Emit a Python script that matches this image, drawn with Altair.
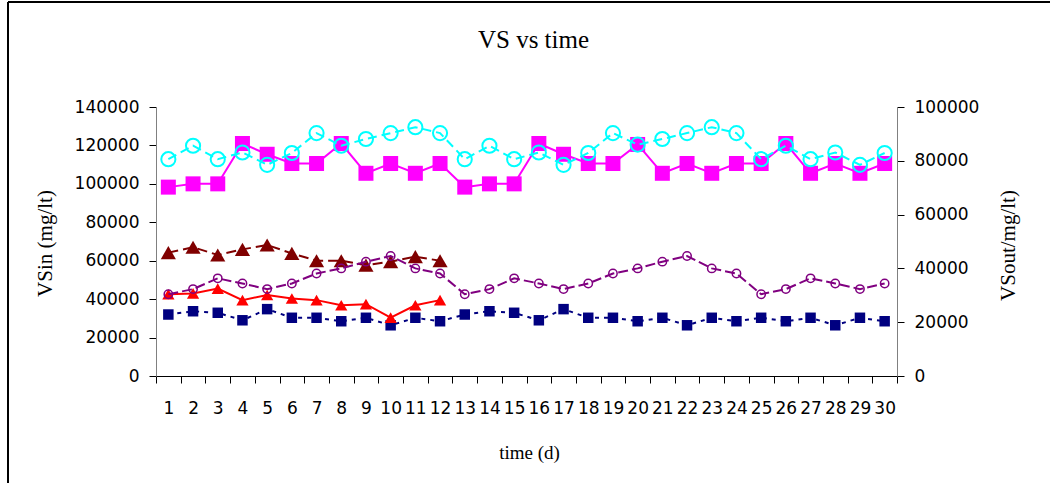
import altair as alt
import pandas as pd

# ---- data ----
days = list(range(1, 31))
days_short = list(range(1, 13))

# left axis (VSin, mg/lt)
vs_magenta = [98300, 100000, 100000, 121000, 115400, 110600, 110600, 121000, 105500, 110600, 105500, 110600,
              98300, 100000, 100000, 121000, 115400, 110600, 110600, 120500, 105500, 110600, 105500, 110600,
              110600, 121000, 105500, 110600, 105500, 110600]
vs_navy = [32000, 33700, 32900, 29000, 34800, 30300, 30300, 28500, 30300, 26400, 30300, 28500,
           32000, 33700, 32900, 29000, 34800, 30300, 30300, 28500, 30300, 26400, 30300, 28500,
           30300, 28500, 30300, 26400, 30300, 28500]
vs_darkred = [64200, 67000, 63000, 65900, 68200, 63800, 60000, 60000, 57700, 59500, 62100, 60000]

# right axis (VSout, mg/lt)
vs_cyan = [80600, 85600, 80600, 83100, 78500, 82900, 90300, 85600, 88100, 90300, 92500, 90300,
           80600, 85600, 80600, 83100, 78500, 82900, 90300, 86000, 88100, 90300, 92500, 90300,
           80600, 85600, 80600, 83100, 78500, 82900]
vs_purple = [30400, 32300, 36300, 34400, 32300, 34400, 38100, 40000, 42500, 44600, 40000, 38100,
             30400, 32300, 36300, 34400, 32300, 34400, 38100, 40000, 42500, 44600, 40000, 38100,
             30400, 32300, 36300, 34400, 32300, 34400]
vs_red = [30400, 30700, 32500, 28200, 30100, 28800, 28200, 26300, 26700, 21700, 26300, 28200]

left_ticks = [0, 20000, 40000, 60000, 80000, 100000, 120000, 140000]
right_ticks = [0, 20000, 40000, 60000, 80000, 100000]
chart_title = 'VS vs time'

W, H = 741, 269
PAD_L, PAD_T = 156, 107

x_axis = alt.Axis(title='time (d)', labelFont='DejaVu Sans', labelFontSize=17, labelColor='black',
                  labelAngle=0, labelOverlap=False, labelPadding=17, tickSize=7, tickColor='black',
                  tickBand='extent', domainColor='black', grid=False,
                  titleFont='Liberation Serif', titleFontSize=19, titleFontWeight='normal',
                  titleColor='black', titleX=373, titleY=76, titleBaseline='middle', titleAlign='center')
x_enc = alt.X('day:O', scale=alt.Scale(type='band', domain=days, paddingInner=0, paddingOuter=0),
              axis=x_axis, bandPosition=0.5)

yl_axis = alt.Axis(title='VSin (mg/lt)', values=left_ticks, format='d', labelFont='DejaVu Sans',
                   labelFontSize=17, labelColor='black', labelPadding=10, tickSize=7, tickColor='black',
                   domainColor='#808080', grid=False, titleFont='Liberation Serif', titleFontSize=21,
                   titleFontWeight='normal', titleColor='black', titleAngle=270, titleX=-111, titleY=136,
                   titleBaseline='middle', titleAlign='center')
yr_axis = alt.Axis(title='VSout/mg/lt)', orient='right', values=right_ticks, format='d',
                   labelFont='DejaVu Sans', labelFontSize=17, labelColor='black', labelPadding=10,
                   tickSize=7, tickColor='black', domainColor='#808080', grid=False,
                   titleFont='Liberation Serif', titleFontSize=21, titleFontWeight='normal',
                   titleColor='black', titleAngle=270, titleX=111, titleY=138,
                   titleBaseline='middle', titleAlign='center')

yl_enc = alt.Y('value:Q', scale=alt.Scale(domain=[0, 140000], nice=False), axis=yl_axis)
yr_enc = alt.Y('value:Q', scale=alt.Scale(domain=[0, 100000], nice=False), axis=yr_axis)


def series(xs, vals, y_enc, color, shape, size, dash, filled, pt_stroke):
    df = pd.DataFrame({'day': xs, 'value': vals})
    base = alt.Chart(df)
    line_kw = dict(color=color, strokeWidth=2)
    if dash:
        line_kw['strokeDash'] = dash
    line = base.mark_line(**line_kw).encode(x=x_enc, y=y_enc)
    pts = base.mark_point(shape=shape, size=size, filled=filled, color=color, opacity=1,
                          strokeWidth=pt_stroke).encode(x=x_enc, y=y_enc)
    return [line, pts]


one_row = pd.DataFrame({'a': [0]})
top_border = alt.Chart(one_row).mark_rule(color='black', strokeWidth=2).encode(
    x=alt.value(8 - PAD_L), x2=alt.value(1050 - PAD_L), y=alt.value(2 - PAD_T))
left_border = alt.Chart(one_row).mark_rule(color='black', strokeWidth=2).encode(
    x=alt.value(8 - PAD_L), y=alt.value(2 - PAD_T), y2=alt.value(483 - PAD_T))
title_text = alt.Chart(pd.DataFrame({'t': [chart_title]})).mark_text(
    font='Liberation Serif', fontSize=25, color='black', align='center', baseline='alphabetic'
).encode(text='t:N', x=alt.value(W / 2 + 7), y=alt.value(48 - PAD_T))

left_layers = (series(days, vs_magenta, yl_enc, '#FF00FF', 'square', 225, None, True, 1)
               + series(days_short, vs_darkred, yl_enc, '#800000', 'triangle-up', 230, [10, 5], True, 1)
               + series(days, vs_navy, yl_enc, '#000080', 'square', 110, [4, 5], True, 1))
right_layers = (series(days_short, vs_red, yr_enc, '#FF0000', 'triangle-up', 150, None, True, 1)
                + series(days, vs_cyan, yr_enc, '#00FFFF', 'circle', 200, [9, 5], False, 2)
                + series(days, vs_purple, yr_enc, '#800080', 'circle', 70, [10, 4], False, 1.5))

left = alt.layer(top_border, left_border, title_text, *left_layers)
right = alt.layer(*right_layers)

chart = alt.layer(left, right).resolve_scale(y='independent').properties(
    width=W, height=H,
    autosize=alt.AutoSizeParams(type='none'),
    padding={'left': PAD_L, 'top': PAD_T, 'right': 1050 - PAD_L - W, 'bottom': 483 - PAD_T - H},
    background='white',
).configure_view(stroke=None)

chart.save("out.html", embed_options={"renderer": "svg", "actions": False})
